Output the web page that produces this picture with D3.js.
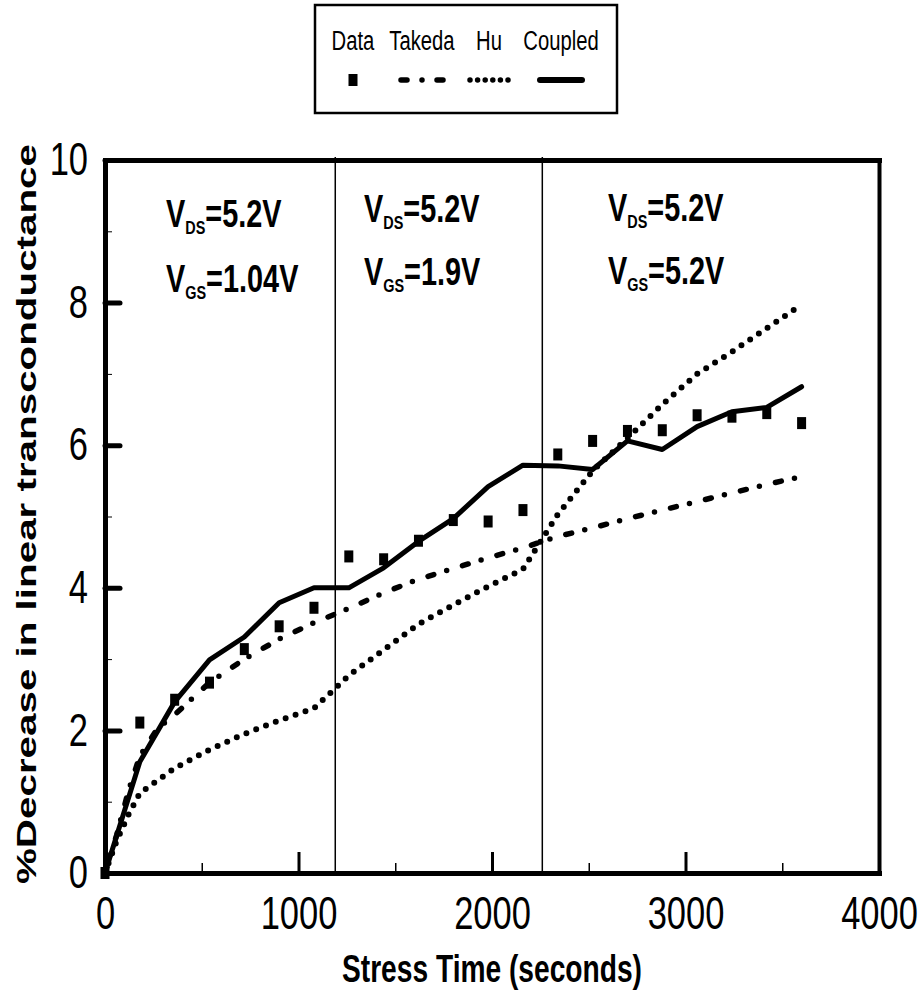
<!DOCTYPE html>
<html>
<head>
<meta charset="utf-8">
<script src="https://cdn.jsdelivr.net/npm/d3@7"></script>
<style>
  html, body { margin: 0; padding: 0; background: #fff; }
  svg { display: block; }
</style>
</head>
<body>
<svg id="chart" width="923" height="1002"></svg>
<script>
// ---- data -------------------------------------------------------------
// Stress time (s) at which transconductance was measured
const stressTime = [0, 180, 360, 540, 720, 900, 1080, 1260, 1440, 1620, 1800,
                    1980, 2160, 2340, 2520, 2700, 2880, 3060, 3240, 3420, 3600];
// Measured % decrease in linear transconductance
const measured = [0, 2.11, 2.43, 2.67, 3.14, 3.46, 3.72, 4.44, 4.40, 4.66, 4.95,
                  4.93, 5.09, 5.87, 6.06, 6.20, 6.21, 6.42, 6.40, 6.45, 6.31];
// Coupled model, evaluated at the measurement times
const coupledModel = [0, 1.56, 2.40, 2.99, 3.31, 3.79, 4.00, 4.00, 4.28, 4.65, 4.97,
                      5.42, 5.72, 5.71, 5.66, 6.06, 5.94, 6.26, 6.47, 6.53, 6.82];
// Takeda model
const takedaTime  = [0, 60, 120, 180, 270, 360, 540, 720, 900, 1080, 1260, 1440,
                     1620, 1800, 1980, 2160, 2340, 2520, 2700, 2880, 3060, 3240, 3420, 3600];
const takedaModel = [0, 0.53, 1.14, 1.64, 2.02, 2.22, 2.67, 3.00, 3.28, 3.51, 3.71, 3.93,
                     4.12, 4.27, 4.42, 4.56, 4.72, 4.84, 4.97, 5.09, 5.21, 5.33, 5.45, 5.56];
// Hu model
const huTime  = [0, 60, 120, 180, 360, 540, 720, 900, 1080, 1260, 1440, 1620, 1800,
                 1980, 2160, 2340, 2520, 2700, 2880, 3060, 3240, 3420, 3600];
const huModel = [0, 0.45, 0.81, 1.12, 1.47, 1.73, 1.95, 2.14, 2.31, 2.77, 3.13, 3.49, 3.76,
                 4.02, 4.26, 5.03, 5.64, 6.10, 6.57, 7.00, 7.31, 7.64, 7.97];

// Times at which the stress bias was switched
const biasSwitch = [1190, 2260];
// Bias condition of each stress phase
const vdsLabels = ["5.2V", "5.2V", "5.2V"];
const vgsLabels = ["1.04V", "1.9V", "5.2V"];

const xMajorTicks = [0, 1000, 2000, 3000, 4000];
const xMinorTicks = [500, 1500, 2500, 3500];
const yMajorTicks = [0, 2, 4, 6, 8, 10];
const yMinorTicks = [1, 3, 5, 7, 9];

const legendNames = ["Data", "Takeda", "Hu", "Coupled"];
const xTitle = "Stress Time (seconds)";
const yTitle = "%Decrease in linear transconductance";

// ---- layout -----------------------------------------------------------
const plot = { left: 105, right: 879, top: 160, bottom: 873 };
const svg = d3.select("#chart");
const x = d3.scaleLinear().domain([0, 4000]).range([plot.left, plot.right]);
const y = d3.scaleLinear().domain([0, 10]).range([plot.bottom, plot.top]);

const sans = "'Liberation Sans', Arial, Helvetica, sans-serif";

// squeeze text horizontally about its own x anchor (narrow face look)
function squeeze(sel, sx) {
  sel.each(function () {
    const t = d3.select(this);
    const ax = +t.attr("x") || 0;
    t.attr("transform", `translate(${ax},0) scale(${sx},1) translate(${-ax},0)`);
  });
}

// ---- bias switch markers ---------------------------------------------
svg.append("g").selectAll("line")
  .data(biasSwitch)
  .join("line")
  .attr("x1", d => x(d)).attr("x2", d => x(d))
  .attr("y1", y(0)).attr("y2", plot.top - 3)
  .attr("stroke", "#000").attr("stroke-width", 1.5);

// ---- axes -------------------------------------------------------------
function styleAxis(g, width) {
  g.select(".domain").attr("stroke", "#000").attr("stroke-width", width)
    .attr("stroke-linecap", "square");
}

// minor ticks
svg.append("g").attr("transform", `translate(0,${plot.bottom})`)
  .call(d3.axisBottom(x).tickValues(xMinorTicks).tickSizeInner(-10).tickSizeOuter(0).tickFormat(""))
  .call(g => g.select(".domain").remove())
  .call(g => g.selectAll(".tick line").attr("stroke", "#000").attr("stroke-width", 1.5));
svg.append("g").attr("transform", `translate(${plot.left},0)`)
  .call(d3.axisLeft(y).tickValues(yMinorTicks).tickSizeInner(-7).tickSizeOuter(0).tickFormat(""))
  .call(g => g.select(".domain").remove())
  .call(g => g.selectAll(".tick line").attr("stroke", "#000").attr("stroke-width", 1));

// frame: top and right edges
svg.append("g").attr("transform", `translate(0,${plot.top})`)
  .call(d3.axisTop(x).tickValues([]).tickSizeOuter(0))
  .call(g => styleAxis(g, 5));
svg.append("g").attr("transform", `translate(${plot.right},0)`)
  .call(d3.axisRight(y).tickValues([]).tickSizeOuter(0))
  .call(g => styleAxis(g, 4));

// bottom axis
const xAxisG = svg.append("g").attr("transform", `translate(0,${plot.bottom})`)
  .call(d3.axisBottom(x).tickValues(xMajorTicks).tickFormat(d3.format("d"))
    .tickSizeInner(-21).tickSizeOuter(0).tickPadding(23))
  .call(g => styleAxis(g, 5));
xAxisG.selectAll(".tick line").attr("stroke", "#000").attr("stroke-width", 3);
xAxisG.selectAll(".tick text")
  .attr("fill", "#000").attr("font-family", sans).attr("font-size", 46)
  .call(squeeze, 0.75);

// left axis
const yAxisG = svg.append("g").attr("transform", `translate(${plot.left},0)`)
  .call(d3.axisLeft(y).tickValues(yMajorTicks).tickSizeInner(-15).tickSizeOuter(0).tickPadding(17))
  .call(g => styleAxis(g, 5));
yAxisG.selectAll(".tick line").attr("stroke", "#000").attr("stroke-width", 5)
  .attr("stroke-linecap", "round");
yAxisG.selectAll(".tick text")
  .attr("fill", "#000").attr("font-family", sans).attr("font-size", 46)
  .call(squeeze, 0.75);

// axis titles
svg.append("text")
  .attr("x", 492).attr("y", 982)
  .attr("text-anchor", "middle")
  .attr("font-family", sans).attr("font-weight", "bold").attr("font-size", 38)
  .attr("textLength", 300).attr("lengthAdjust", "spacingAndGlyphs")
  .text(xTitle);

svg.append("text")
  .attr("transform", "translate(36,514) rotate(-90)")
  .attr("text-anchor", "middle")
  .attr("font-family", sans).attr("font-weight", "bold").attr("font-size", 28)
  .attr("textLength", 740).attr("lengthAdjust", "spacingAndGlyphs")
  .text(yTitle);

// ---- bias condition labels -------------------------------------------
const biasPos = [
  { x: 166, y1: 227, y2: 292 },
  { x: 364, y1: 222, y2: 285 },
  { x: 608, y1: 221, y2: 284 }
];
function biasLabel(xp, yp, sub, val) {
  const t = svg.append("text")
    .attr("x", xp).attr("y", yp)
    .attr("font-family", sans).attr("font-weight", "bold").attr("font-size", 38);
  t.append("tspan").text("V");
  t.append("tspan").attr("font-size", 19).attr("dy", 7).text(sub);
  t.append("tspan").attr("dy", -7).text("=" + val);
  t.call(squeeze, 0.76);
}
biasPos.forEach((p, i) => {
  biasLabel(p.x, p.y1, "DS", vdsLabels[i]);
  biasLabel(p.x, p.y2, "GS", vgsLabels[i]);
});

// ---- model curves -----------------------------------------------------
const line = d3.line().x(d => x(d[0])).y(d => y(d[1]));

svg.append("path")
  .datum(d3.zip(huTime, huModel))
  .attr("d", line)
  .attr("fill", "none").attr("stroke", "#000").attr("stroke-width", 6)
  .attr("stroke-linecap", "round").attr("stroke-dasharray", "0,10.5");

svg.append("path")
  .datum(d3.zip(takedaTime, takedaModel))
  .attr("d", line)
  .attr("fill", "none").attr("stroke", "#000").attr("stroke-width", 5.5)
  .attr("stroke-linecap", "round").attr("stroke-dasharray", "6,13.5,0,16.5");

svg.append("path")
  .datum(d3.zip(stressTime, coupledModel))
  .attr("d", line)
  .attr("fill", "none").attr("stroke", "#000").attr("stroke-width", 5)
  .attr("stroke-linejoin", "round").attr("stroke-linecap", "round");

// ---- measured data ----------------------------------------------------
const markW = 9, markH = 12;
svg.append("g").selectAll("rect")
  .data(d3.zip(stressTime, measured))
  .join("rect")
  .attr("x", d => x(d[0]) - markW / 2)
  .attr("y", d => y(d[1]) - markH / 2)
  .attr("width", markW).attr("height", markH)
  .attr("fill", "#000");

// ---- legend -----------------------------------------------------------
const legend = svg.append("g");
legend.append("rect")
  .attr("x", 315).attr("y", 5).attr("width", 302).attr("height", 108)
  .attr("fill", "#fff").attr("stroke", "#000").attr("stroke-width", 2.5);

const legendX = [353, 422, 489, 561];
legend.selectAll("text.name")
  .data(legendNames)
  .join("text")
  .attr("class", "name")
  .attr("x", (d, i) => legendX[i]).attr("y", 50)
  .attr("text-anchor", "middle")
  .attr("font-family", sans).attr("font-size", 27)
  .text(d => d)
  .call(squeeze, 0.75);

const ly = 80;
legend.append("rect")
  .attr("x", legendX[0] - markW / 2).attr("y", ly - markH / 2)
  .attr("width", markW).attr("height", markH).attr("fill", "#000");
legend.append("line")
  .attr("x1", legendX[1] - 21).attr("x2", legendX[1] + 21).attr("y1", ly).attr("y2", ly)
  .attr("stroke", "#000").attr("stroke-width", 5.5).attr("stroke-linecap", "round")
  .attr("stroke-dasharray", "6,15,0,15,6");
legend.append("line")
  .attr("x1", legendX[2] - 19).attr("x2", legendX[2] + 19).attr("y1", ly).attr("y2", ly)
  .attr("stroke", "#000").attr("stroke-width", 5.5).attr("stroke-linecap", "round")
  .attr("stroke-dasharray", "0,7.6");
legend.append("line")
  .attr("x1", legendX[3] - 21).attr("x2", legendX[3] + 21).attr("y1", ly).attr("y2", ly)
  .attr("stroke", "#000").attr("stroke-width", 6).attr("stroke-linecap", "round");
</script>
</body>
</html>
